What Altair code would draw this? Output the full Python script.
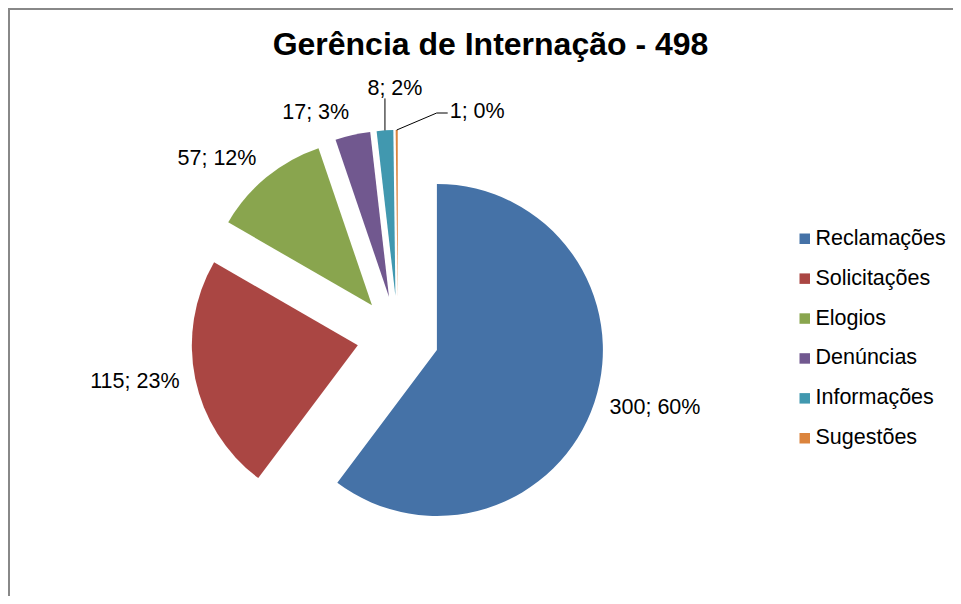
import altair as alt
import pandas as pd

# ---- data ----
categories = ["Reclamações", "Solicitações", "Elogios", "Denúncias", "Informações", "Sugestões"]
values = [300, 115, 57, 17, 8, 1]
percent_labels = ["60%", "23%", "12%", "3%", "2%", "0%"]
colors = ["#4572A7", "#AA4643", "#89A54E", "#71588F", "#4198AF", "#DB843D"]
title_text = "Gerência de Internação - 498"

df = pd.DataFrame({
    "categoria": categories,
    "valor": values,
    "pct": percent_labels,
    "ordem": list(range(len(categories))),
})

# ---- layout ----
W, H_TOTAL = 945, 588
PAD_TOP = 70
H = H_TOTAL - PAD_TOP
CX, CY = 390, 259       # pie centre (view coordinates)
R = 166                 # pie radius
EXPLODE = 41            # explosion distance
GAP = 16                # distance from rim to label
FONT = "Liberation Sans"
FS = 21.5

base = (
    alt.Chart(df)
    .transform_joinaggregate(total="sum(valor)")
    .transform_window(cum="sum(valor)", sort=[alt.SortField("ordem")], frame=[None, 0])
    .transform_calculate(start="(datum.cum - datum.valor) / datum.total * 2 * PI")
    .transform_calculate(end="datum.cum / datum.total * 2 * PI")
    .transform_calculate(mid="(datum.start + datum.end) / 2")
    .transform_calculate(share="datum.valor / datum.total")
    .transform_calculate(label="datum.valor + '; ' + datum.pct")
    .transform_calculate(sx="sin(datum.mid)")
    .transform_calculate(sy="-cos(datum.mid)")
    .transform_calculate(ax=f"{CX} + {EXPLODE} * datum.sx")
    .transform_calculate(ay=f"{CY} + {EXPLODE} * datum.sy")
    .transform_calculate(lx=f"{CX} + {EXPLODE + R + GAP} * datum.sx")
    .transform_calculate(ly=f"{CY} + {EXPLODE + R + GAP} * datum.sy")
    .transform_calculate(ox=f"{CX} + {EXPLODE + R} * datum.sx")
    .transform_calculate(oy=f"{CY} + {EXPLODE + R} * datum.sy")
)

arcs = base.mark_arc(radius=R).encode(
    x=alt.X("ax:Q", scale=None, axis=None),
    y=alt.Y("ay:Q", scale=None, axis=None),
    theta=alt.Theta("start:Q", scale=None),
    theta2="end:Q",
    color=alt.Color(
        "categoria:N",
        scale=alt.Scale(domain=categories, range=colors),
        sort=categories,
        legend=alt.Legend(
            title=None,
            orient="none",
            legendX=786,
            legendY=150,
            symbolType="square",
            symbolSize=110,
            symbolStrokeWidth=0,
            labelFontSize=FS,
            labelFont=FONT,
            labelColor="black",
            labelOffset=0,
            rowPadding=16.9,
        ),
    ),
)

txt_kw = dict(font=FONT, fontSize=FS, color="black")
enc = dict(
    x=alt.X("lx:Q", scale=None, axis=None),
    y=alt.Y("ly:Q", scale=None, axis=None),
    text="label:N",
)

lab_right = base.transform_filter("datum.share >= 0.025 && datum.sx >= 0 && abs(datum.sy) < 0.5").mark_text(
    align="left", baseline="middle", **txt_kw).encode(**enc)
lab_left = base.transform_filter("datum.share >= 0.025 && datum.sx < 0 && abs(datum.sy) < 0.5").mark_text(
    align="right", baseline="middle", **txt_kw).encode(**enc)
lab_top = base.transform_filter("datum.share >= 0.025 && datum.sy <= -0.5").mark_text(
    align="right", baseline="alphabetic", **txt_kw).encode(**enc)

# small slices with leader lines
teal = base.transform_filter("datum.share >= 0.01 && datum.share < 0.025")
teal_line = teal.transform_calculate(ty="datum.oy - 32").mark_rule(color="black", strokeWidth=1).encode(
    x=alt.X("ox:Q", scale=None, axis=None), y=alt.Y("oy:Q", scale=None, axis=None), x2="ox:Q", y2="ty:Q")
teal_text = teal.transform_calculate(tx="datum.ox + 10", ty="datum.oy - 35").mark_text(
    align="center", baseline="alphabetic", **txt_kw).encode(
    x=alt.X("tx:Q", scale=None, axis=None), y=alt.Y("ty:Q", scale=None, axis=None), text="label:N")

orng = base.transform_filter("datum.share < 0.01").transform_calculate(
    ex="datum.ox + 40", ey="datum.oy - 17", fx="datum.ox + 51", tx="datum.ox + 53", ty="datum.oy - 12")
orng_l1 = orng.mark_rule(color="black", strokeWidth=1).encode(
    x=alt.X("ox:Q", scale=None, axis=None), y=alt.Y("oy:Q", scale=None, axis=None), x2="ex:Q", y2="ey:Q")
orng_l2 = orng.mark_rule(color="black", strokeWidth=1).encode(
    x=alt.X("ex:Q", scale=None, axis=None), y=alt.Y("ey:Q", scale=None, axis=None), x2="fx:Q", y2="ey:Q")
orng_text = orng.mark_text(align="left", baseline="alphabetic", **txt_kw).encode(
    x=alt.X("tx:Q", scale=None, axis=None), y=alt.Y("ty:Q", scale=None, axis=None), text="label:N")

# chart title as a text mark
title = alt.Chart(pd.DataFrame({"t": [title_text]})).mark_text(
    font=FONT, fontSize=32, fontWeight="bold", color="black", align="center", baseline="alphabetic"
).encode(x=alt.value(W / 2 + 10), y=alt.value(-23), text="t:N")

# chart frame
frame_top = alt.Chart(df).mark_rule(color="#888888", strokeWidth=2).encode(
    x=alt.value(0), x2=alt.value(W), y=alt.value(-69), y2=alt.value(-69))
frame_left = alt.Chart(df).mark_rule(color="#888888", strokeWidth=2).encode(
    x=alt.value(1), x2=alt.value(1), y=alt.value(-70), y2=alt.value(H))

chart = alt.layer(
    frame_top, frame_left, title, arcs, lab_right, lab_left, lab_top,
    teal_line, teal_text, orng_l1, orng_l2, orng_text,
).properties(
    width=W,
    height=H,
    autosize="none",
    padding={"top": PAD_TOP, "left": 0, "right": 0, "bottom": 0},
).configure_view(stroke=None)

chart.save("out.html", embed_options={"renderer": "svg", "actions": False})
